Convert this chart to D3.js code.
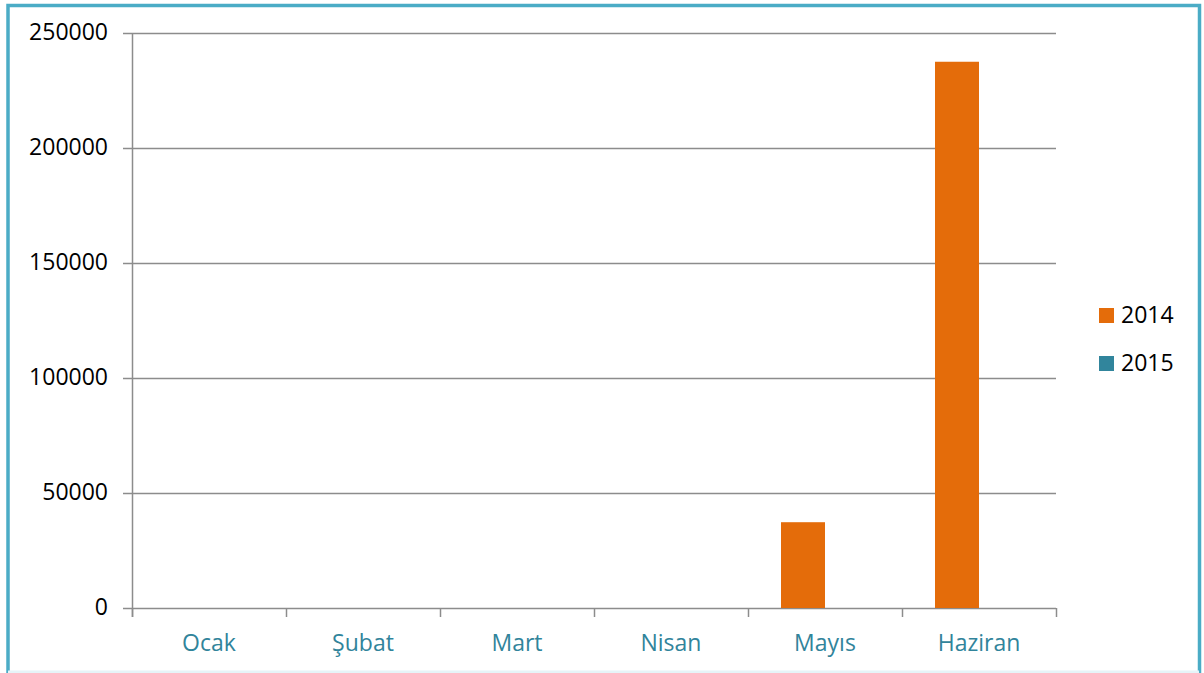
<!DOCTYPE html>
<html>
<head>
<meta charset="utf-8">
<script src="https://cdn.jsdelivr.net/npm/d3@7"></script>
<style>
body { margin: 0; background: #fff; }
text { font-family: "Open Sans", sans-serif; }
</style>
</head>
<body>
<script>
var months = ["Ocak", "Şubat", "Mart", "Nisan", "Mayıs", "Haziran"];
var years = ["2014", "2015"];
var values2014 = [0, 0, 0, 0, 37300, 237500];
var values2015 = [0, 0, 0, 0, 0, 0];
var yTicks = [0, 50000, 100000, 150000, 200000, 250000];
var colors = ["#e46c0a", "#31859c"];

var width = 1204, height = 673;
var plot = {left: 132, right: 1056, top: 33, bottom: 608};

var svg = d3.select("body").append("svg")
    .attr("width", width)
    .attr("height", height);

// outer frame
svg.append("rect")
    .attr("x", 8).attr("y", 5.5)
    .attr("width", 1191.5).attr("height", 668)
    .attr("fill", "none")
    .attr("stroke", "#4bacc6")
    .attr("stroke-width", 3.5);
svg.append("line")
    .attr("x1", 8).attr("x2", 1199)
    .attr("y1", 672).attr("y2", 672)
    .attr("stroke", "#e6f4f8").attr("stroke-width", 3);

var x = d3.scaleBand()
    .domain(months)
    .range([plot.left, plot.right])
    .paddingInner(0).paddingOuter(0);

var x1 = d3.scaleBand()
    .domain(years)
    .range([0, x.bandwidth()])
    .paddingInner(0).paddingOuter(0.75);

var y = d3.scaleLinear().domain([0, 250000]).range([plot.bottom, plot.top]);

// grid + y ticks
svg.append("g").selectAll("line")
    .data(yTicks)
    .enter().append("line")
      .attr("x1", plot.left - 9)
      .attr("x2", plot.right)
      .attr("y1", function(d) { return Math.round(y(d)) + 0.5; })
      .attr("y2", function(d) { return Math.round(y(d)) + 0.5; })
      .attr("stroke", "#8c8c8c")
      .attr("stroke-width", 1.5);

svg.append("g").selectAll("text")
    .data(yTicks)
    .enter().append("text")
      .attr("x", plot.left - 24)
      .attr("y", function(d) { return y(d) + 7; })
      .attr("text-anchor", "end")
      .attr("font-size", 23)
      .attr("fill", "#000")
      .text(function(d) { return d; });

// bars
var series = [values2014, values2015];
var groups = svg.append("g").selectAll("g")
    .data(months)
    .enter().append("g")
      .attr("transform", function(d) { return "translate(" + x(d) + ",0)"; });

groups.selectAll("rect")
    .data(function(d, i) { return years.map(function(yr, j) { return {year: yr, value: series[j][i], c: colors[j]}; }); })
    .enter().append("rect")
      .attr("x", function(d) { return x1(d.year); })
      .attr("width", x1.bandwidth())
      .attr("y", function(d) { return y(d.value); })
      .attr("height", function(d) { return y(0) - y(d.value); })
      .attr("fill", function(d) { return d.c; });

// y axis line
svg.append("line")
    .attr("x1", plot.left + 0.5).attr("x2", plot.left + 0.5)
    .attr("y1", plot.top).attr("y2", plot.bottom + 9)
    .attr("stroke", "#8c8c8c").attr("stroke-width", 1.5);

// x axis ticks at category boundaries
var bounds = months.map(function(m) { return x(m); }).concat([plot.right]);
svg.append("g").selectAll("line")
    .data(bounds)
    .enter().append("line")
      .attr("x1", function(d) { return Math.round(d) + 0.5; })
      .attr("x2", function(d) { return Math.round(d) + 0.5; })
      .attr("y1", plot.bottom)
      .attr("y2", plot.bottom + 9)
      .attr("stroke", "#8c8c8c").attr("stroke-width", 1.5);

svg.append("g").selectAll("text")
    .data(months)
    .enter().append("text")
      .attr("x", function(d) { return x(d) + x.bandwidth() / 2; })
      .attr("y", 651)
      .attr("text-anchor", "middle")
      .attr("font-size", 23)
      .attr("fill", "#31849b")
      .text(function(d) { return d; });

// legend
var legend = svg.append("g").selectAll("g")
    .data(years)
    .enter().append("g")
      .attr("transform", function(d, i) { return "translate(1099," + (308 + 48 * i) + ")"; });
legend.append("rect")
    .attr("width", 15).attr("height", 15)
    .attr("fill", function(d, i) { return colors[i]; });
legend.append("text")
    .attr("x", 22).attr("y", 15)
    .attr("font-size", 23)
    .attr("fill", "#000")
    .text(function(d) { return d; });
</script>
</body>
</html>
